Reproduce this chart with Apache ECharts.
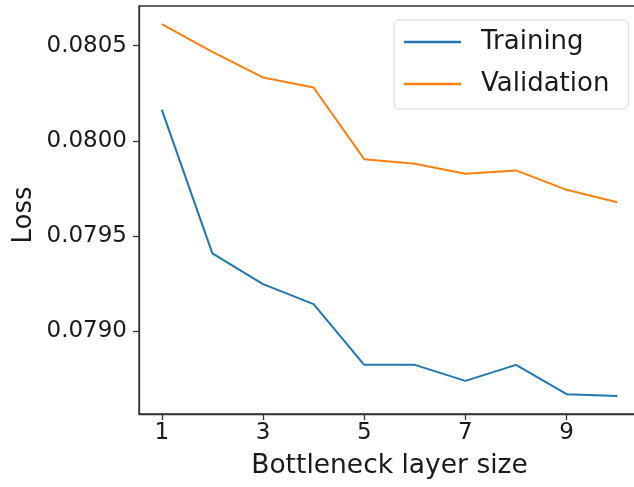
<!DOCTYPE html>
<html>
<head>
<meta charset="utf-8">
<script src="https://cdn.jsdelivr.net/npm/echarts@6/dist/echarts.min.js"></script>
<style>
html,body{margin:0;padding:0;background:#fff;overflow:hidden;}
#chart{width:634px;height:487px;}
</style>
</head>
<body>
<div id="chart"></div>
<script>
const bottleneckSizes = [1, 2, 3, 4, 5, 6, 7, 8, 9, 10];
const trainingLoss = [0.080164, 0.079409, 0.079248, 0.079143, 0.078824, 0.078824, 0.078740, 0.078824, 0.078670, 0.078661];
const validationLoss = [0.080613, 0.080467, 0.080333, 0.080280, 0.079904, 0.079880, 0.079827, 0.079845, 0.079743, 0.079678];
const xTickValues = [1, 3, 5, 7, 9];
const yTickValues = [0.0790, 0.0795, 0.0800, 0.0805];
const seriesNames = ['Training', 'Validation'];
const xAxisTitle = 'Bottleneck layer size';
const yAxisTitle = 'Loss';

const FONT = 'DejaVu Sans';
const chart = echarts.init(document.getElementById('chart'), null, {renderer: 'canvas'});

chart.setOption({
  animation: false,
  backgroundColor: '#fff',
  grid: {
    left: 139, top: 6, width: 501, height: 408,
    outerBoundsMode: 'none', containLabel: false,
    show: true, borderColor: '#333', borderWidth: 1.3, backgroundColor: 'transparent'
  },
  legend: {
    left: 394, top: 20,
    orient: 'vertical',
    data: seriesNames.map(n => ({name: n, icon: 'rect'})),
    itemWidth: 57, itemHeight: 2.5, itemGap: 12,
    padding: [7, 19, 10, 10],
    borderColor: '#d6d6d6', borderWidth: 1, borderRadius: 5,
    backgroundColor: 'rgba(255,255,255,0.8)',
    textStyle: {fontFamily: FONT, fontSize: 26, color: '#1a1a1a', lineHeight: 30, padding: [0, 0, 0, 15]}
  },
  xAxis: {
    type: 'value', min: 0.55, max: 10.45,
    name: xAxisTitle, nameLocation: 'middle', nameGap: 39, nameMoveOverlap: false,
    nameTextStyle: {fontFamily: FONT, fontSize: 26.5, color: '#1a1a1a'},
    axisLine: {show: true, onZero: false, lineStyle: {color: '#333', width: 1.3}},
    axisTick: {show: true, customValues: xTickValues, length: 6, lineStyle: {color: '#333', width: 1.3}},
    axisLabel: {customValues: xTickValues, fontFamily: FONT, fontSize: 23, color: '#1a1a1a', margin: 8,
      formatter: v => String(Math.round(v))},
    splitLine: {show: false}
  },
  yAxis: {
    type: 'value', min: 0.078566, max: 0.080708,
    name: yAxisTitle, nameLocation: 'middle', nameGap: 102, nameRotate: 90, nameMoveOverlap: false,
    nameTextStyle: {fontFamily: FONT, fontSize: 26, color: '#1a1a1a', padding: [0, 10, 0, 0]},
    axisLine: {show: true, onZero: false, lineStyle: {color: '#333', width: 1.3}},
    axisTick: {show: true, customValues: yTickValues, length: 6, lineStyle: {color: '#333', width: 1.3}},
    axisLabel: {customValues: yTickValues, fontFamily: FONT, fontSize: 23, color: '#1a1a1a', margin: 12,
      formatter: v => v.toFixed(4)},
    splitLine: {show: false}
  },
  series: [
    {
      name: seriesNames[0], type: 'line', symbol: 'none',
      data: bottleneckSizes.map((x, i) => [x, trainingLoss[i]]),
      lineStyle: {color: '#1f77b4', width: 2}, itemStyle: {color: '#1f77b4'}
    },
    {
      name: seriesNames[1], type: 'line', symbol: 'none',
      data: bottleneckSizes.map((x, i) => [x, validationLoss[i]]),
      lineStyle: {color: '#ff7f0e', width: 2}, itemStyle: {color: '#ff7f0e'}
    }
  ]
});
</script>
</body>
</html>
